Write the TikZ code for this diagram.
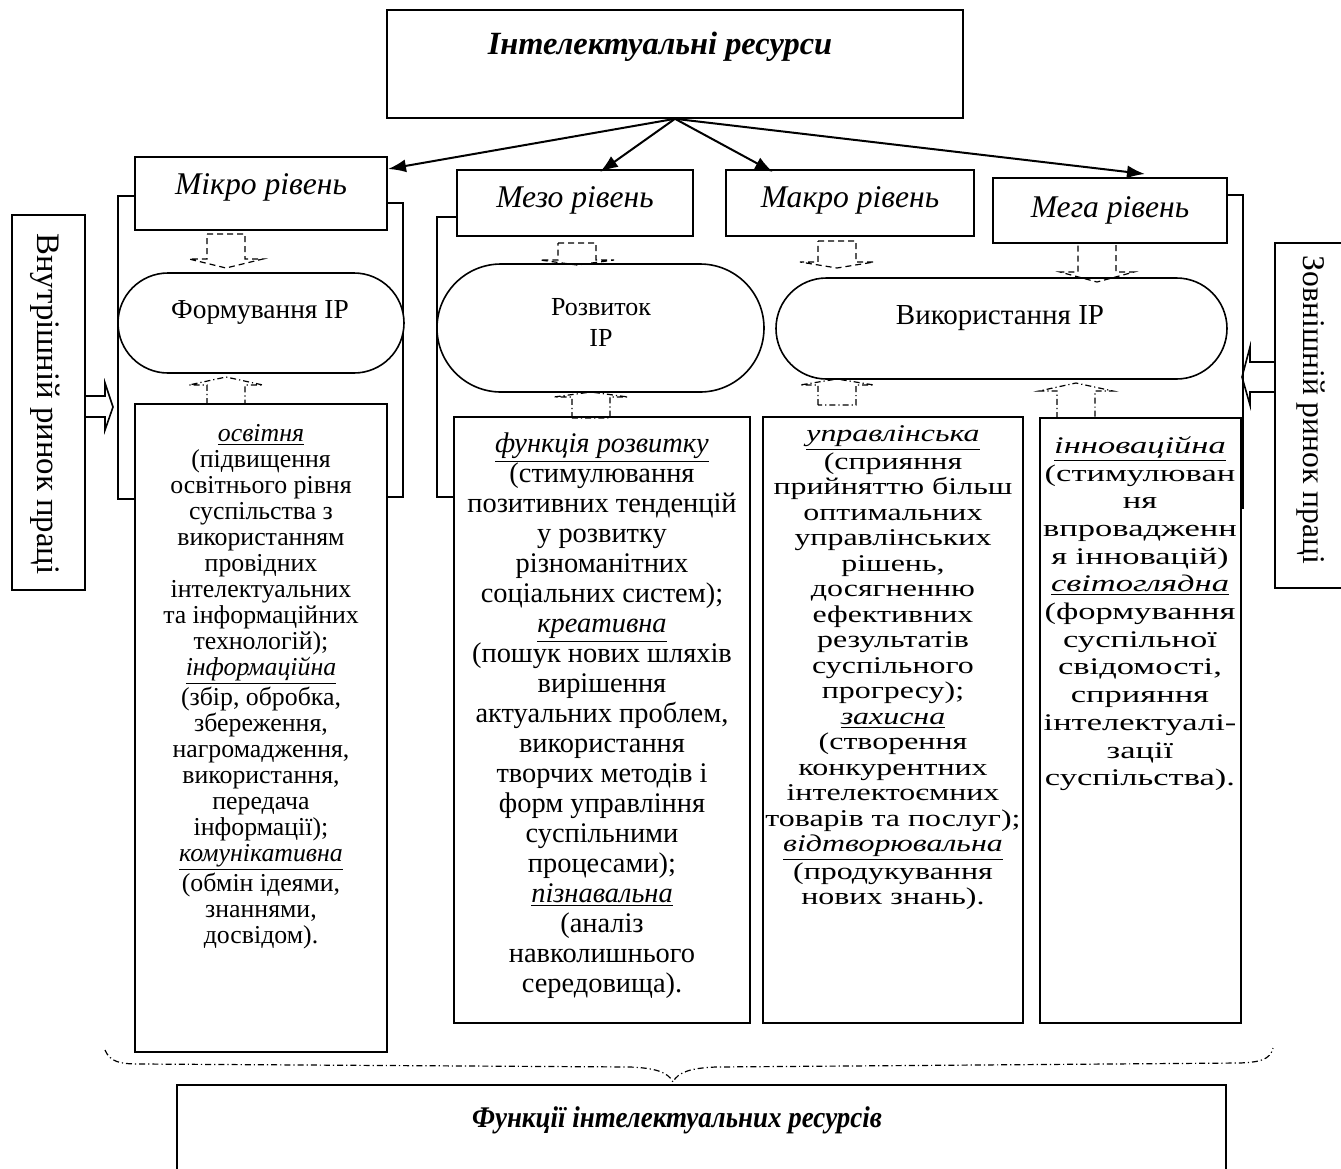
\documentclass[tikz,border=0pt]{standalone}
\usepackage{fontspec}
\setmainfont{Liberation Serif}
\newfontfamily\uprfont[FakeStretch=1.33]{Liberation Serif}
\newfontfamily\innfont[FakeStretch=1.45]{Liberation Serif}
\newfontfamily\condfont[FakeStretch=0.9]{Liberation Serif}
\usetikzlibrary{arrows.meta}
\newcommand\uit[1]{\underline{\textit{#1}}}
\newcommand\rectnode[6]{%
  \pgfmathsetmacro\bw{(#5-#3)*0.5}%
  \pgfmathsetmacro\bh{(#6-#4)*0.5}%
  \node[#1, minimum width=\bw pt, minimum height=\bh pt] (#2) at ({(#3+#5)/2},{(#4+#6)/2}) {};}
\newcommand\pillnode[6]{%
  \pgfmathsetmacro\bw{(#5-#3)*0.5}%
  \pgfmathsetmacro\bh{(#6-#4)*0.5}%
  \pgfmathsetmacro\br{(#6-#4)*0.25}%
  \node[#1, rounded corners=\br pt, minimum width=\bw pt, minimum height=\bh pt] (#2) at ({(#3+#5)/2},{(#4+#6)/2}) {};}
\newcommand\dblk[5]{%
  \draw[#1] ({#2-19},#3) -- ({#2+19},#3) -- ({#2+19},#4) -- ({#2+37},#4) -- (#2,#5) -- ({#2-37},#4) -- ({#2-19},#4) -- cycle;}
\newcommand\ublk[5]{%
  \draw[#1] ({#2-19},#5) -- ({#2-19},#4) -- ({#2-37},#4) -- (#2,#3) -- ({#2+37},#4) -- ({#2+19},#4) -- ({#2+19},#5) -- cycle;}
\tikzset{
  box/.style={draw, line width=0.8pt, fill=white, inner sep=0pt, rectangle},
  txt/.style={inner sep=0pt, align=center},
  conn/.style={line width=1pt, -{Latex[length=9pt,width=6.5pt]}},
  dashblk/.style={line width=0.6pt, dash pattern=on 3pt off 2pt},
  dotblk/.style={line width=0.6pt, dash pattern=on 3pt off 1.5pt on 0.6pt off 1.5pt},
  frame/.style={line width=0.8pt},
  lvl/.style={txt, font=\fontsize{15.8}{18}\selectfont\itshape},
}
\begin{document}
\begin{tikzpicture}[x=0.5pt,y=-0.5pt]
\fill[white] (0,0) rectangle (1341,1169);
\useasboundingbox (0,0) rectangle (1341,1169);
% brackets behind the columns
\draw[frame] (135,196) -- (118,196) -- (118,499) -- (135,499);
\draw[frame] (387,203) -- (403,203) -- (403,497) -- (387,497);
\draw[frame] (457,217) -- (437,217) -- (437,497) -- (454,497);
\draw[frame] (1227,195) -- (1243,195) -- (1243,508) -- (1240,508);
% top box
\rectnode{box}{top}{387}{10}{963}{118}
\node[txt, font=\fontsize{16.2}{19}\selectfont\bfseries\itshape] (topt) at (660,47) {Інтелектуальні ресурси};
% level boxes
\rectnode{box}{mikro}{135}{157}{387}{230}
\node[lvl] (mikrot) at (261,187) {Мікро рівень};
\rectnode{box}{mezo}{457}{170}{693}{236}
\node[lvl] (mezot) at (575,200) {Мезо рівень};
\rectnode{box}{makro}{726}{170}{974}{236}
\node[lvl] (makrot) at (850,200) {Макро рівень};
\rectnode{box}{mega}{993}{178}{1227}{243}
\node[lvl] (megat) at (1110,210) {Мега рівень};
% pills
\pillnode{box}{form}{118}{273}{404}{373}
\node[txt, font=\fontsize{13.7}{16}\selectfont] (formt) at (260,312) {Формування ІР};
\pillnode{box}{rozv}{437}{264}{764}{392}
\node[txt, font=\fontsize{13}{15.5}\selectfont] (rozvt) at (601,322) {Розвиток\\ІР};
\pillnode{box}{vyk}{776}{278}{1227}{379}
\node[txt, font=\fontsize{14.5}{17}\selectfont] (vykt) at (1000,318) {Використання ІР};
% function boxes
\rectnode{box}{osv}{135}{404}{387}{1052}
\node[txt, anchor=north, font=\fontsize{12.9}{13}\selectfont] (osvt) at (261,424) {\uit{освітня}\\(підвищення\\освітнього рівня\\суспільства з\\використанням\\провідних\\інтелектуальних\\та інформаційних\\технологій);\\\uit{інформаційна}\\(збір, обробка,\\збереження,\\нагромадження,\\використання,\\передача\\інформації);\\\uit{комунікативна}\\(обмін ідеями,\\знаннями,\\досвідом).};
\rectnode{box}{func}{454}{417}{750}{1023}
\node[txt, anchor=north, font=\fontsize{14.2}{15}\selectfont] (funct) at (602,432) {\uit{функція розвитку}\\(стимулювання\\позитивних тенденцій\\у розвитку\\різноманітних\\соціальних систем);\\\uit{креативна}\\(пошук нових шляхів\\вирішення\\актуальних проблем,\\використання\\творчих методів і\\форм управління\\суспільними\\процесами);\\\uit{пізнавальна}\\(аналіз\\навколишнього\\середовища).};
\rectnode{box}{upr}{763}{417}{1023}{1023}
\node[txt, anchor=north, font=\uprfont\fontsize{12}{12.75}\selectfont] (uprt) at (893,425) {\uit{управлінська}\\(сприяння\\прийняттю більш\\оптимальних\\управлінських\\рішень,\\досягненню\\ефективних\\результатів\\суспільного\\прогресу);\\\uit{захисна}\\(створення\\конкурентних\\інтелектоємних\\товарів та послуг);\\\uit{відтворювальна}\\(продукування\\нових знань).};
\rectnode{box}{inn}{1040}{418}{1241}{1023}
\node[txt, anchor=north, font=\innfont\fontsize{11.9}{13.85}\selectfont] (innt) at (1140,436) {\uit{інноваційна}\\(стимулюван\\ня\\впровадженн\\я інновацій)\\\uit{світоглядна}\\(формування\\суспільної\\свідомості,\\сприяння\\інтелектуалі-\\зації\\суспільства).};
% side boxes
\rectnode{box}{inner}{12}{215}{85}{590}
\node[txt, rotate=-90, font=\fontsize{16.4}{19}\selectfont] (innert) at (45,404) {Внутрішній ринок праці};
\draw[frame] (1341,243) -- (1275,243) -- (1275,588) -- (1341,588);
\node[txt, rotate=-90, font=\fontsize{15.8}{18}\selectfont] (outert) at (1311,410) {Зовнішній ринок праці};
\draw[frame] (85,396) -- (105,396) -- (105,383) -- (113,407) -- (105,430) -- (105,417) -- (85,417);
\draw[frame] (1275,362) -- (1250,362) -- (1250,347) -- (1242,377) -- (1250,405) -- (1250,392) -- (1275,392);
% connectors from the top box
\coordinate (aM) at (388,169);
\coordinate (aZ) at (600,172);
\coordinate (aK) at (773,172);
\coordinate (aG) at (1145,174);
\draw[conn] (top.south) -- (aM);
\draw[conn] (top.south) -- (aZ);
\draw[conn] (top.south) -- (aK);
\draw[conn] (top.south) -- (aG);
% dashed block arrows
\dblk{dashblk}{226}{234}{259}{268}
\ublk{dotblk}{226}{377}{385}{404}
\dblk{dashblk}{577}{243}{260}{265}
\ublk{dotblk}{591}{392}{397}{418}
\dblk{dashblk}{837}{241}{262}{268}
\dblk{dashblk}{1097}{243}{272}{282}
\ublk{dotblk}{837}{379}{385}{405}
\ublk{dotblk}{1076}{383}{391}{418}
% brace
\draw[dotblk] (105,1050) .. controls (110,1062) and (120,1064) .. (140,1064) -- (630,1067) .. controls (655,1068) and (668,1072) .. (673,1082) .. controls (678,1072) and (691,1068) .. (716,1067) -- (1240,1063) .. controls (1260,1062) and (1270,1060) .. (1273,1048);
% bottom box
\draw[frame] (177,1169) -- (177,1085) -- (1226,1085) -- (1226,1169);
\node[txt, font=\condfont\fontsize{15}{18}\selectfont\bfseries\itshape] (funt) at (677,1120) {Функції інтелектуальних ресурсів};
\end{tikzpicture}
\end{document}
